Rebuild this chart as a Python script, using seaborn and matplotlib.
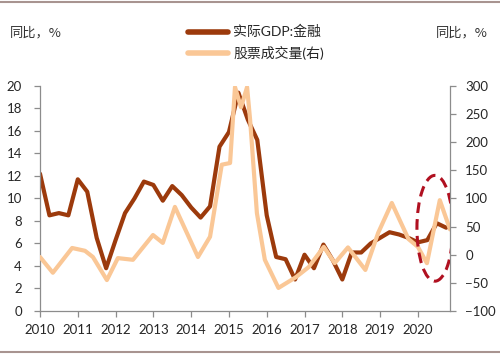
import numpy as np
import pandas as pd
import seaborn as sns
import matplotlib.pyplot as plt
from matplotlib.patches import Ellipse
from matplotlib.lines import Line2D

# quarterly real GDP of the financial sector, yoy %
quarters = pd.period_range('2010Q1', '2020Q4', freq='Q')
gdp_fin = [12.2, 8.5, 8.7, 8.5, 11.7, 10.6, 6.5, 3.8, 6.3, 8.7, 10.0, 11.5,
           11.2, 9.8, 11.1, 10.3, 9.2, 8.3, 9.3, 14.6, 15.9, 19.4, 17.0, 15.2,
           8.5, 4.8, 4.6, 2.8, 5.0, 3.8, 5.9, 4.5, 2.8, 5.2, 5.2, 6.0,
           6.5, 7.0, 6.8, 6.5, 6.1, 6.3, 7.8, 7.4]

# stock turnover yoy %, read at turning points (decimal years)
stock_dates = [2010.00, 2010.34, 2010.85, 2011.19, 2011.40, 2011.77, 2012.06,
               2012.46, 2012.99, 2013.25, 2013.57, 2014.18, 2014.50, 2014.81,
               2015.03, 2015.16, 2015.32, 2015.48, 2015.56, 2015.74, 2015.95,
               2016.31, 2016.77, 2017.11, 2017.51, 2017.80, 2018.15, 2018.61,
               2018.95, 2019.31, 2019.75, 2020.00, 2020.24, 2020.58, 2020.85]
stock_vol = [-4, -32, 12, 7, -4, -45, -6,
             -9, 35, 21, 85, -4, 32, 160,
             163, 298, 262, 298, 240, 74, -9,
             -59, -40, -22, 14, -15, 13, -27,
             39, 92, 28, 14, -15, 97, 45]

years = list(range(2010, 2021))
left_ticks = list(range(0, 21, 2))
right_ticks = list(range(-100, 301, 50))

dark = '#9c3a0c'
light = '#fac796'

sns.set_style('white')
plt.rcParams['font.family'] = ['Lato', 'Noto Sans CJK SC', 'DejaVu Sans']

gdp_df = pd.DataFrame({'date': quarters.year + (quarters.quarter - 1) / 4,
                       'value': gdp_fin})
stock_df = pd.DataFrame({'date': stock_dates, 'value': stock_vol})

fig = plt.figure(figsize=(5, 3.61), dpi=100)
ax = fig.add_axes([0.08, 0.1385, 0.82, 0.6235])
ax2 = ax.twinx()

sns.lineplot(data=gdp_df, x='date', y='value', ax=ax, color=dark,
             linewidth=3.0, solid_joinstyle='round', solid_capstyle='round')
sns.lineplot(data=stock_df, x='date', y='value', ax=ax2, color=light,
             linewidth=3.0, solid_joinstyle='round', solid_capstyle='round')

ax.set_xlim(2010, 2020.85)
ax.set_ylim(0, 20)
ax2.set_ylim(-100, 300)
ax.set_xticks(years)
ax.set_xticklabels([str(y) for y in years])
ax.set_yticks(left_ticks)
ax2.set_yticks(right_ticks)
ax.set_xlabel('')
ax.set_ylabel('')
ax2.set_ylabel('')

for a in (ax, ax2):
    a.spines['top'].set_visible(False)
    for s in a.spines.values():
        s.set_color('#8c8c8c')
        s.set_linewidth(0.9)
ax.spines['right'].set_visible(False)
ax2.spines['left'].set_visible(False)
ax2.spines['bottom'].set_visible(False)

ax.tick_params(axis='y', direction='out', length=4, width=0.9, color='#8c8c8c',
               pad=9, labelsize=9.5, left=True)
ax.tick_params(axis='x', direction='out', length=4, width=0.9, color='#8c8c8c',
               pad=5, labelsize=9.5, bottom=True)
ax2.tick_params(axis='y', direction='out', length=4, width=0.9, color='#8c8c8c',
                pad=7, labelsize=9.5, right=True)

# highlight the latest quarters
ell = Ellipse((2020.45, 47), width=0.95, height=188, fill=False,
              edgecolor='#b01020', linewidth=2.2, linestyle=(0, (3.5, 2)),
              zorder=10)
ax2.add_patch(ell)

fig.text(0.02, 0.909, '同比，%', fontsize=9.5, va='center', ha='left',
         family=['Noto Sans CJK SC'], color='#333333')
fig.text(0.976, 0.909, '同比，%', fontsize=9.5, va='center', ha='right',
         family=['Noto Sans CJK SC'], color='#333333')

handles = [Line2D([], [], color=dark, linewidth=4),
           Line2D([], [], color=light, linewidth=4)]
fig.legend(handles, ['实际GDP:金融', '股票成交量(右)'], loc='upper left',
           bbox_to_anchor=(0.35, 0.965), frameon=False, fontsize=10,
           handlelength=2.9, labelspacing=0.55, handletextpad=0.4)

fig.add_artist(Line2D([0, 1], [0.994, 0.994], color='#a89490', linewidth=1.5))
fig.add_artist(Line2D([0, 1], [0.025, 0.025], color='#a89490', linewidth=1.5))

fig.savefig('out.png', dpi=100)
